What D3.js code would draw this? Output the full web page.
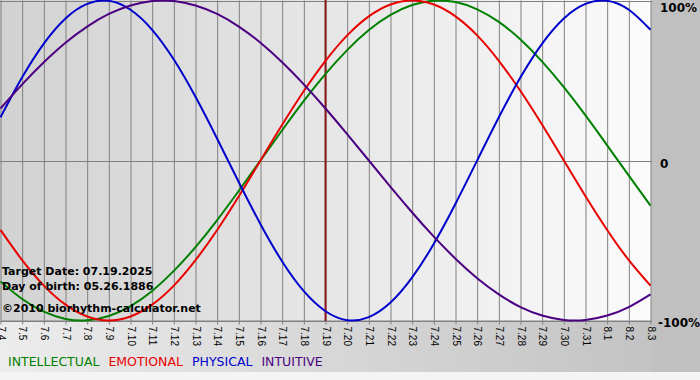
<!doctype html>
<html>
<head>
  <style>
    body { margin: 0; }
    svg { display: block; font-family: "DejaVu Sans", Verdana, sans-serif; }
  </style>
  <script src="https://d3js.org/d3.v7.min.js"></script>
</head>
<body>
<svg width="700" height="380"></svg>
<script>
  // days shown, 07.04 .. 08.03
  var days = ["7.4","7.5","7.6","7.7","7.8","7.9","7.10","7.11","7.12","7.13","7.14","7.15","7.16","7.17","7.18","7.19",
              "7.20","7.21","7.22","7.23","7.24","7.25","7.26","7.27","7.28","7.29","7.30","7.31","8.1","8.2","8.3"];
  var targetDay = "7.19";

  var intellectual = [-0.756,-0.866,-0.945,-0.990,-0.999,-0.972,-0.910,-0.815,-0.690,-0.541,-0.372,-0.189,0.000,0.189,0.372,0.541,
                      0.690,0.815,0.910,0.972,0.999,0.990,0.945,0.866,0.756,0.618,0.458,0.282,0.095,-0.095,-0.282];
  var emotional = [-0.434,-0.623,-0.782,-0.901,-0.975,-1.000,-0.975,-0.901,-0.782,-0.623,-0.434,-0.223,0.000,0.223,0.434,0.623,
                   0.782,0.901,0.975,1.000,0.975,0.901,0.782,0.623,0.434,0.223,0.000,-0.223,-0.434,-0.623,-0.782];
  var physical = [0.270,0.520,0.731,0.888,0.979,0.998,0.942,0.817,0.631,0.398,0.136,-0.136,-0.398,-0.631,-0.817,-0.942,
                  -0.998,-0.979,-0.888,-0.731,-0.520,-0.270,0.000,0.270,0.520,0.731,0.888,0.979,0.998,0.942,0.817];
  var intuitive = [0.325,0.476,0.614,0.736,0.837,0.916,0.969,0.997,0.997,0.969,0.916,0.837,0.736,0.614,0.476,0.325,
                   0.165,0.000,-0.165,-0.325,-0.476,-0.614,-0.736,-0.837,-0.916,-0.969,-0.997,-0.997,-0.969,-0.916,-0.837];

  var seriesNames = ["INTELLECTUAL", "EMOTIONAL", "PHYSICAL", "INTUITIVE"];
  var seriesColors = ["#008000", "#e80000", "#0000cc", "#4b0082"];
  var yTicks = [1, 0, -1];
  var yTickLabels = ["100%", "0", "-100%"];

  var svg = d3.select("svg");
  var plotW = 651, plotH = 321;

  var defs = svg.append("defs");
  var bg = defs.append("linearGradient").attr("id", "bg");
  bg.append("stop").attr("offset", "0%").attr("stop-color", "#ececec");
  bg.append("stop").attr("offset", "100%").attr("stop-color", "#c0c0c0");
  var pg = defs.append("linearGradient").attr("id", "pg");
  pg.append("stop").attr("offset", "0%").attr("stop-color", "#d2d2d2");
  pg.append("stop").attr("offset", "100%").attr("stop-color", "#fbfbfb");

  svg.append("rect").attr("width", 700).attr("height", 380).attr("fill", "url(#bg)");
  svg.append("rect").attr("x", 652).attr("width", 48).attr("height", 372).attr("fill", "#c0c0c0");
  svg.append("rect").attr("y", 372).attr("width", 700).attr("height", 8).attr("fill", "#f4f4f4");
  svg.append("rect").attr("width", plotW).attr("height", plotH).attr("fill", "url(#pg)");

  var x = d3.scalePoint().domain(days).range([0.5, 650.5]);
  var y = d3.scaleLinear().domain([-1, 1]).range([320.5, 0.5]);

  // vertical grid + ticks
  svg.append("g")
    .attr("transform", "translate(0," + 320.5 + ")")
    .call(d3.axisBottom(x).tickSize(4).tickSizeOuter(0))
    .call(function (g) {
      g.select(".domain").attr("stroke", "#808080");
      g.selectAll(".tick line").attr("stroke", "#808080");
      g.selectAll(".tick").append("line")
        .attr("y1", 0).attr("y2", -320).attr("stroke", "#808080");
      g.selectAll(".tick text")
        .attr("transform", "rotate(90)")
        .attr("x", 6).attr("y", 0).attr("dy", "0.35em")
        .attr("text-anchor", "start")
        .attr("font-size", 10).attr("font-family", "Liberation Sans, Arial, sans-serif").attr("fill", "#000");
    });

  // horizontal lines
  svg.append("g").selectAll("line").data(yTicks).enter().append("line")
    .attr("x1", 0).attr("x2", 652)
    .attr("y1", function (d) { return Math.round(y(d)) + 0.5; })
    .attr("y2", function (d) { return Math.round(y(d)) + 0.5; })
    .attr("stroke", "#808080");

  svg.append("g").selectAll("text").data(yTicks).enter().append("text")
    .attr("x", function (d, i) { return i == 2 ? 658 : 660; })
    .attr("y", function (d) { return y(d) + 5; })
    .attr("dy", function (d) { return d == 1 ? 6 : (d == -1 ? 1 : 2); })
    .attr("font-size", 12).attr("font-weight", "bold")
    .text(function (d, i) { return yTickLabels[i]; });

  // target day marker
  svg.append("line")
    .attr("x1", x(targetDay)).attr("x2", x(targetDay))
    .attr("y1", 0).attr("y2", 321)
    .attr("stroke", "#8b1a1a").attr("stroke-width", 2);

  var line = d3.line()
    .x(function (d, i) { return x(days[i]); })
    .y(function (d) { return y(d); })
    .curve(d3.curveNatural);

  var series = [intellectual, emotional, physical, intuitive];
  svg.append("g").selectAll("path").data(series).enter().append("path")
    .attr("d", line)
    .attr("fill", "none")
    .attr("stroke", function (d, i) { return seriesColors[i]; })
    .attr("stroke-width", 2);

  // info text
  var info = ["Target Date: 07.19.2025", "Day of birth: 05.26.1886"];
  svg.append("g").selectAll("text").data(info).enter().append("text")
    .attr("x", 2).attr("y", function (d, i) { return 275 + i * 15; })
    .attr("font-size", 11).attr("font-weight", "bold")
    .text(function (d) { return d; });
  svg.append("text").attr("x", 2).attr("y", 312)
    .attr("font-size", 11).attr("font-weight", "bold")
    .text("\u00a92010 biorhythm-calculator.net");

  // legend
  var lx = 8;
  seriesNames.forEach(function (name, i) {
    var t = svg.append("text")
      .attr("x", lx).attr("y", 366)
      .attr("font-size", 12.5)
      .attr("fill", seriesColors[i])
      .text(name);
    lx += t.node().getComputedTextLength() + 9;
  });
</script>
</body>
</html>
